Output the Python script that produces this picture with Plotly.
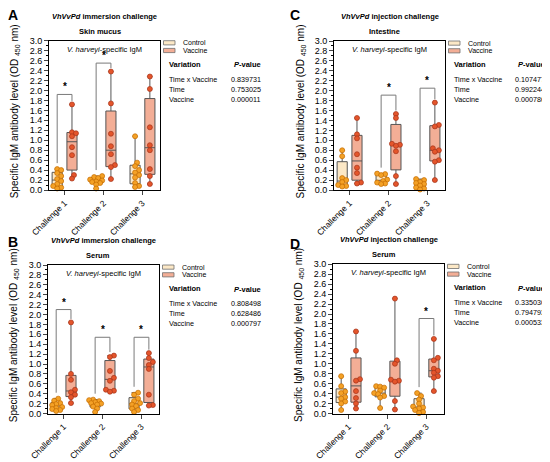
import numpy as np
import plotly.graph_objects as go

# the page puts an 8px body margin round the plot, so the figure is
# 8px smaller than the window and all positions are shifted by that margin
PAGE = 8
W, H = 550 - PAGE, 462 - PAGE

challenges = ["Challenge 1", "Challenge 2", "Challenge 3"]
variations = ["Time x Vaccine", "Time", "Vaccine"]
groups = ["Control", "Vaccine"]

# A - VhVvPd immersion challenge, skin mucus
a_control = [[0.42, 0.40, 0.34, 0.28, 0.22, 0.18, 0.12, 0.08, 0.05, 0.03],
             [0.28, 0.26, 0.24, 0.21, 0.19, 0.17, 0.16, 0.14, 0.11, 0.03],
             [1.08, 0.55, 0.48, 0.40, 0.35, 0.30, 0.25, 0.14, 0.08, 0.06]]
a_vaccine = [[1.72, 1.16, 1.14, 1.08, 0.86, 0.70, 0.30, 0.23],
             [2.38, 1.74, 1.13, 0.88, 0.72, 0.50, 0.46, 0.22],
             [2.28, 2.03, 1.26, 0.90, 0.80, 0.42, 0.28, 0.12]]
a_pvalues = ["0.839731", "0.753025", "0.000011"]
a_brackets = [1.92, 2.55, None]

# B - VhVvPd immersion challenge, serum
b_control = [[0.30, 0.26, 0.21, 0.19, 0.17, 0.13, 0.11, 0.09, 0.07, 0.05],
             [0.28, 0.27, 0.25, 0.23, 0.21, 0.20, 0.18, 0.14, 0.10, 0.03],
             [0.42, 0.38, 0.30, 0.25, 0.21, 0.18, 0.15, 0.10, 0.07, 0.03]]
b_vaccine = [[1.84, 0.80, 0.68, 0.48, 0.43, 0.38, 0.33, 0.21],
             [1.17, 1.14, 0.86, 0.72, 0.66, 0.48, 0.46, 0.44],
             [1.22, 1.12, 1.04, 0.98, 0.90, 0.38, 0.17, 0.16]]
b_pvalues = ["0.808498", "0.628486", "0.000797"]
b_brackets = [2.10, 1.54, 1.54]

# C - VhVvPd injection challenge, intestine
c_control = [[0.80, 0.68, 0.24, 0.20, 0.16, 0.10, 0.08, 0.07],
             [0.33, 0.32, 0.30, 0.21, 0.18, 0.15, 0.13, 0.12],
             [0.22, 0.20, 0.16, 0.14, 0.12, 0.09, 0.05, 0.03, 0.01]]
c_vaccine = [[1.45, 1.12, 1.04, 0.72, 0.45, 0.34, 0.15, 0.13],
             [1.53, 1.45, 0.93, 0.91, 0.89, 0.78, 0.28, 0.12],
             [1.76, 1.31, 1.28, 0.84, 0.80, 0.77, 0.60, 0.57, 0.20]]
c_pvalues = ["0.107477", "0.992244", "0.000786"]
c_brackets = [None, 1.91, 2.05]

# D - VhVvPd injection challenge, serum
d_control = [[0.75, 0.55, 0.44, 0.41, 0.33, 0.30, 0.24, 0.20, 0.07],
             [0.55, 0.54, 0.52, 0.46, 0.41, 0.39, 0.35, 0.32, 0.11],
             [0.41, 0.35, 0.28, 0.20, 0.14, 0.12, 0.10, 0.07, 0.03, 0.01]]
d_vaccine = [[1.65, 1.26, 0.69, 0.66, 0.45, 0.31, 0.20, 0.10],
             [2.31, 1.07, 1.00, 0.68, 0.66, 0.64, 0.25, 0.08],
             [1.50, 1.12, 1.07, 0.90, 0.86, 0.82, 0.75, 0.72, 0.45]]
d_pvalues = ["0.335030", "0.794793", "0.000533"]
d_brackets = [None, None, 1.91]

FONT = "Liberation Sans, Arial, sans-serif"
FILLS = ["#FCE8C6", "#F3AE96"]
DOTS = ["#F4A126", "#E4552B"]
EDGES = ["#C46C00", "#A5331A"]
BOX_LINE = "#555555"

# positions below are window pixels, measured on the reference
panels = [
    dict(letter="A", route="immersion", tissue="Skin mucus", data=[a_control, a_vaccine],
         p=a_pvalues, br=a_brackets, left=49, right=160, top=40.7, bottom=190,
         tab=(167, 229), tag=(13, 15)),
    dict(letter="B", route="immersion", tissue="Serum", data=[b_control, b_vaccine],
         p=b_pvalues, br=b_brackets, left=48, right=159, top=265, bottom=413.5,
         tab=(167, 229), tag=(13, 242)),
    dict(letter="C", route="injection", tissue="Intestine", data=[c_control, c_vaccine],
         p=c_pvalues, br=c_brackets, left=334, right=445, top=41, bottom=190,
         tab=(452, 513), tag=(295, 15)),
    dict(letter="D", route="injection", tissue="Serum", data=[d_control, d_vaccine],
         p=d_pvalues, br=d_brackets, left=333, right=444, top=264.3, bottom=413.5,
         tab=(452, 513), tag=(294.5, 243.5)),
]

XR = [0.6, 3.45]
OFF, BW = 0.19, 0.26


def px(x):
    return (x - PAGE) / W


def py(y):
    return 1 - (y - PAGE) / H


# spread dots sideways when they would overlap, like the GraphPad scatter
def swarm(values, center, sx, sy, size=3.8, step=2.0):
    placed = []
    xs = [0.0] * len(values)
    for i in sorted(range(len(values)), key=lambda j: values[j]):
        vy = values[i] * sy
        best, best_d = 0.0, -1.0
        for k in range(7):
            off = ((k + 1) // 2) * step * (1 if k % 2 else -1)
            d = min([((off - ox) ** 2 + (vy - oy) ** 2) ** 0.5 for ox, oy in placed] or [99])
            if d >= size:
                best = off
                break
            if d > best_d:
                best, best_d = off, d
        placed.append((best, vy))
        xs[i] = center + best / sx
    return xs


fig = go.Figure()
layout = dict(width=W, height=H, margin=dict(l=0, r=0, t=0, b=0),
              plot_bgcolor="white", paper_bgcolor="white",
              font=dict(family=FONT, color="black"), showlegend=False)
annotations = []
shapes = []

for n, pan in enumerate(panels, start=1):
    xa, ya = "x" if n == 1 else "x%d" % n, "y" if n == 1 else "y%d" % n
    sx = (pan["right"] - pan["left"]) / (XR[1] - XR[0])
    sy = (pan["bottom"] - pan["top"]) / 3.0

    for g, data in enumerate(pan["data"]):
        sign = -1 if g == 0 else 1
        pos = [i + 1 + sign * OFF for i in range(3)]
        st = [np.percentile(v, [25, 50, 75], method="weibull") for v in data]
        fig.add_trace(go.Box(
            x=pos, q1=[s[0] for s in st], median=[s[1] for s in st], q3=[s[2] for s in st],
            lowerfence=[min(v) for v in data], upperfence=[max(v) for v in data],
            width=BW, fillcolor=FILLS[g], line=dict(color=BOX_LINE, width=1),
            boxpoints=False, name=groups[g], xaxis=xa, yaxis=ya))
        for i, v in enumerate(data):
            fig.add_trace(go.Scatter(
                x=swarm(v, pos[i], sx, sy), y=v, mode="markers",
                marker=dict(size=5, color=DOTS[g], line=dict(color=EDGES[g], width=0.7)),
                cliponaxis=False, xaxis=xa, yaxis=ya, hoverinfo="y"))

        # legend swatch
        ly = pan["top"] + 7.7 * g
        shapes.append(dict(type="rect", xref="paper", yref="paper",
                           x0=px(pan["right"] + 3.5), x1=px(pan["right"] + 15),
                           y0=py(ly), y1=py(ly + 4.2), fillcolor=FILLS[g],
                           line=dict(color="#6E6E6E", width=0.8)))
        annotations.append(dict(x=px(pan["right"] + 21), y=py(ly + 2.1), text=groups[g],
                                xanchor="left", font=dict(size=7)))

    # significance brackets
    ctrl, vacc = pan["data"]
    for i, top in enumerate(pan["br"]):
        if top is None:
            continue
        xc, xv = i + 1 - OFF, i + 1 + OFF
        fig.add_trace(go.Scatter(
            x=[xc, xc, xv, xv],
            y=[max(ctrl[i]) + 0.12, top, top, max(vacc[i]) + 0.07],
            mode="lines", line=dict(color="#7A7A7A", width=1),
            xaxis=xa, yaxis=ya, hoverinfo="skip"))
        annotations.append(dict(x=i + 1, y=top, xref=xa, yref=ya, text="<b>*</b>",
                                xanchor="center", yanchor="bottom", font=dict(size=10)))

    layout["xaxis" if n == 1 else "xaxis%d" % n] = dict(
        domain=[px(pan["left"]), px(pan["right"])], anchor=ya, range=XR,
        tickvals=[1, 2, 3], ticktext=challenges, tickangle=-45,
        ticks="outside", ticklen=4, tickfont=dict(size=8.5), automargin=False,
        showline=True, linecolor="black", linewidth=1, mirror=True,
        showgrid=False, zeroline=False)
    layout["yaxis" if n == 1 else "yaxis%d" % n] = dict(
        domain=[py(pan["bottom"]), py(pan["top"])], anchor=xa, range=[0, 3],
        dtick=0.2, tickformat=".1f", ticks="outside", ticklen=4, tickfont=dict(size=9),
        minor=dict(dtick=0.1, ticks="outside", ticklen=2, tickcolor="black"),
        automargin=False, showline=True, linecolor="black", linewidth=1, mirror=True,
        showgrid=False, zeroline=False)

    cx = (pan["left"] + pan["right"]) / 2
    annotations += [
        dict(x=px(pan["tag"][0]), y=py(pan["tag"][1]), text="<b>%s</b>" % pan["letter"],
             font=dict(size=14)),
        dict(x=px(cx), y=py(pan["top"] - 24.5),
             text="<b><i>VhVvPd</i> %s challenge</b>" % pan["route"], font=dict(size=7.5)),
        dict(x=px(cx - 5), y=py(pan["top"] - 9.5), text="<b>%s</b>" % pan["tissue"],
             font=dict(size=7.5)),
        dict(x=px(cx), y=py(pan["top"] + 8.5), text="<i>V. harveyi</i>-specific IgM",
             font=dict(size=7.5)),
        dict(x=px(pan["left"] - 34), y=py((pan["top"] + pan["bottom"]) / 2 - 4), textangle=-90,
             text="Specific IgM antibody level (OD <sub>450</sub> nm)", font=dict(size=10)),
    ]
    tx, vx = pan["tab"]
    annotations += [
        dict(x=px(tx), y=py(pan["top"] + 23.5), text="<b>Variation</b>", xanchor="left",
             font=dict(size=7.5)),
        dict(x=px(vx + 3), y=py(pan["top"] + 24), text="<b><i>P</i>-value</b>", xanchor="left",
             font=dict(size=7.5)),
    ]
    for r in range(3):
        annotations += [
            dict(x=px(tx), y=py(pan["top"] + 38.5 + 10 * r), text=variations[r],
                 xanchor="left", font=dict(size=7.2)),
            dict(x=px(vx), y=py(pan["top"] + 38.5 + 10 * r), text=pan["p"][r],
                 xanchor="left", font=dict(size=7.2)),
        ]

for a in annotations:
    a.setdefault("xref", "paper")
    a.setdefault("yref", "paper")
    a.setdefault("xanchor", "center")
    a.setdefault("yanchor", "middle")
    a.setdefault("showarrow", False)

layout["annotations"] = annotations
layout["shapes"] = shapes
fig.update_layout(**layout)

fig.write_html("out.html")
